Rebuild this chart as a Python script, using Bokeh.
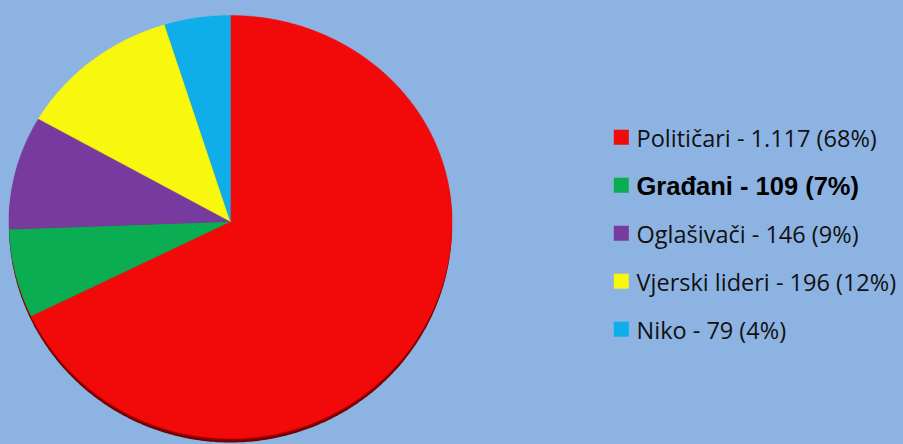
import numpy as np
from bokeh.plotting import figure
from bokeh.models import Range1d, ColumnDataSource, GlobalInlineStyleSheet
from bokeh.core.properties import value
from bokeh.embed import file_html
from bokeh.resources import INLINE

# ---- data ----
categories = ["Političari", "Građani", "Oglašivači", "Vjerski lideri", "Niko"]
counts = [1117, 109, 146, 196, 79]
count_labels = ["1.117", "109", "146", "196", "79"]
percents = [68, 7, 9, 12, 4]
colors = ["#F20A0A", "#0BAD52", "#773A9E", "#F8F80E", "#0DAEEA"]

BG = "#8DB3E2"

W, H = 903, 444
p = figure(width=W, height=H, output_backend="svg", toolbar_location=None,
           x_range=Range1d(0, W), y_range=Range1d(H, 0),
           min_border=0, background_fill_color=BG, border_fill_color=BG,
           outline_line_color=None)
p.axis.visible = False
p.grid.visible = False
p.stylesheets = [GlobalInlineStyleSheet(
    css="html, body { background-color: #8DB3E2; margin: 0; padding: 0; overflow: hidden; }")]

# pie geometry (screen-like coords, y downward), slight perspective tilt
cx, cy, rx, ry_top, ry_bot, depth = 230.0, 221.0, 221.5, 206.0, 217.0, 4.0

def ellipse_pts(a0, a1, yoff=0.0, n=200):
    t = np.linspace(a0, a1, max(3, int(n * (a1 - a0) / (2 * np.pi)) + 2))
    c = -np.cos(t)
    ry = np.where(c < 0, ry_top, ry_bot)
    xs = list(cx + rx * np.sin(t))
    ys = list(cy + yoff + ry * c)
    return xs, ys

# 3D rim below
sx, sy = ellipse_pts(0, 2 * np.pi, yoff=depth, n=600)
p.patch(sx, sy, fill_color="#6E0000", line_color=None)
sx, sy = ellipse_pts(0, 2 * np.pi, yoff=depth * 0.5, n=600)
p.patch(sx, sy, fill_color="#9A0202", line_color=None)

total = float(sum(counts))
fr = np.array(counts) / total
ends = np.cumsum(fr) * 2 * np.pi
starts = np.concatenate([[0.0], ends[:-1]])

xs_all, ys_all = [], []
for a0, a1 in zip(starts, ends):
    ex, ey = ellipse_pts(a0, a1, n=800)
    xs_all.append([cx] + ex + [cx])
    ys_all.append([cy] + ey + [cy])

src = ColumnDataSource(dict(xs=xs_all, ys=ys_all, color=colors, name=categories))
p.patches("xs", "ys", source=src, fill_color="color", line_color="color", line_width=0.5)

# ---- legend (drawn manually) ----
lx, ly0, dy = 620.8, 136.7, 48.0
ys_leg = [ly0 + i * dy for i in range(len(categories))]
p.scatter([lx] * len(categories), ys_leg, marker="square", size=15,
          fill_color=colors, line_color=None)

for i, (c, cl, pc) in enumerate(zip(categories, count_labels, percents)):
    txt = f"{c} - {cl} ({pc}%)"
    if i == 1:
        p.text([636], [ys_leg[i] + 1], text=[txt], text_font=value("Liberation Sans"),
               text_font_size="25.5px", text_color="#000000", text_baseline="middle",
               text_font_style="bold")
    else:
        p.text([636], [ys_leg[i] + 1], text=[txt], text_font=value("Open Sans"),
               text_font_size="23.5px", text_color="#111111", text_baseline="middle")

open("out.html", "w").write(file_html(p, INLINE))
